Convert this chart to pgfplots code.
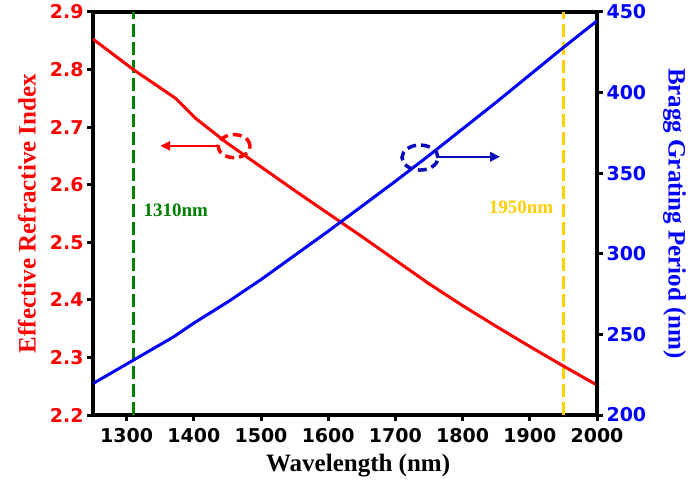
\documentclass[border=0pt]{standalone}
\usepackage{fontspec}
\setmainfont{Liberation Serif}
\newfontfamily\tickfont{DejaVu Sans}
\usepackage{pgfplots}
\pgfplotsset{compat=1.18}
\usetikzlibrary{arrows.meta}

\definecolor{lineGreen}{RGB}{0,128,0}
\definecolor{lineGold}{RGB}{255,208,0}
\definecolor{arrowBlue}{RGB}{10,10,185}

\pgfplotsset{
  common/.style={
    scale only axis, width=504pt, height=403pt,
    xmin=1250, xmax=2000,
    axis line style={line width=3.5pt, black},
    tick style={line width=3pt, black},
    major tick length=6pt,
    tick align=outside,
    /pgf/number format/assume math mode=true,
    /pgf/number format/1000 sep={},
    ticklabel style={font=\tickfont\bfseries\fontsize{19}{22}\selectfont},
    label style={font=\bfseries\fontsize{25}{28}\selectfont},
  }
}

\begin{document}
\begin{tikzpicture}
\path[use as bounding box] (-93pt,-70pt) rectangle (597pt,415pt);

% effective index (left axis)
\begin{axis}[common,
  ymin=2.2, ymax=2.9,
  ytick={2.2,2.3,2.4,2.5,2.6,2.7,2.8,2.9},
  xtick={1300,1400,1500,1600,1700,1800,1900,2000},
  xtick pos=bottom, ytick pos=left,
  xticklabel style={yshift=-4pt},
  yticklabel style={red, /pgf/number format/fixed, /pgf/number format/precision=1, /pgf/number format/fixed zerofill},
  ylabel={Effective Refractive Index},
  ylabel style={red, at={(axis description cs:-0.131,0.5)}, anchor=center},
  xlabel={Wavelength (nm)},
  xlabel style={at={(axis description cs:0.526,-0.1266)}, anchor=center},
]
\addplot[lineGreen, line width=3pt, dash pattern=on 13pt off 5pt] coordinates {(1310,2.2) (1310,2.9)};
\addplot[lineGold, line width=3pt, dash pattern=on 13pt off 5pt] coordinates {(1950,2.2) (1950,2.9)};
\addplot[red, line width=3pt, line join=round] coordinates {
  (1250,2.853) (1310,2.800) (1373,2.750) (1403,2.715) (1450,2.672)
  (1500,2.631) (1550,2.590) (1600,2.550) (1650,2.510) (1700,2.469)
  (1750,2.428) (1800,2.390) (1850,2.354) (1900,2.319) (1950,2.285)
  (2000,2.252)};
\node[anchor=west, text=lineGreen, font=\bfseries\fontsize{19}{22}\selectfont] at (axis cs:1320,2.555) {1310nm};
\node[anchor=east, text=lineGold, font=\bfseries\fontsize{19}{22}\selectfont] at (axis cs:1940,2.560) {1950nm};
\draw[red, line width=3.5pt, dash pattern=on 9pt off 5pt] (axis cs:1460,2.667) ellipse [x radius=16pt, y radius=11.5pt];
\draw[red, line width=2.5pt, -{Triangle[length=10pt,width=9pt]}] (axis cs:1436,2.6675) -- (axis cs:1350,2.6675);
\end{axis}

% grating period (right axis)
\begin{axis}[common,
  axis x line=none, axis y line*=right,
  ymin=200, ymax=450,
  ytick={200,250,300,350,400,450},
  yticklabel style={blue},
  ylabel={Bragg Grating Period (nm)},
  ylabel style={blue, rotate=180, inner sep=0pt, at={(axis description cs:1.154,0.5)}, anchor=center},
]
\addplot[blue, line width=3pt, line join=round] coordinates {
  (1250,219.5) (1310,234) (1370,248.5) (1400,257) (1450,270)
  (1500,284) (1550,299) (1600,314) (1650,329.5) (1700,345)
  (1750,361) (1800,377.5) (1850,394) (1900,411) (1950,428)
  (2000,444.5)};
\draw[arrowBlue, line width=3.5pt, dash pattern=on 9pt off 5pt] (axis cs:1736.6,359.7) ellipse [x radius=18pt, y radius=12.5pt];
\draw[arrowBlue, line width=2.5pt, -{Triangle[length=10pt,width=9pt]}] (axis cs:1762,360.2) -- (axis cs:1856,360.2);
\end{axis}
\end{tikzpicture}
\end{document}
